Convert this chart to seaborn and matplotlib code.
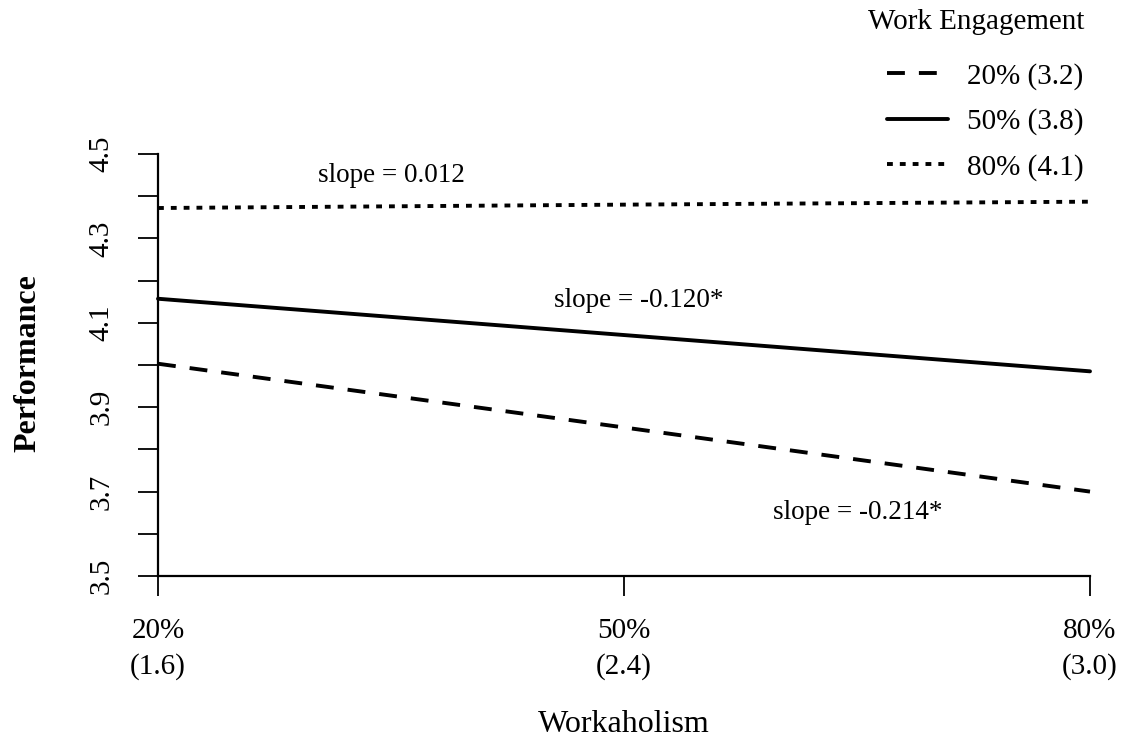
import matplotlib
matplotlib.use("Agg")
import matplotlib.pyplot as plt
import seaborn as sns
import pandas as pd
import numpy as np

# значения
work_pos = [0, 1, 2]
work_labels = ["20%\n(1.6)", "50%\n(2.4)", "80%\n(3.0)"]
engagement = ["20% (3.2)", "50% (3.8)", "80% (4.1)"]
perf_low = [4.003, 3.852, 3.700]
perf_mid = [4.157, 4.071, 3.985]
perf_high = [4.372, 4.380, 4.387]
slope_texts = ["slope = -0.214*", "slope = -0.120*", "slope = 0.012"]

sns.set_style("ticks")
plt.rcParams["font.family"] = ["Liberation Serif", "DejaVu Serif"]
plt.rcParams.update({"text.color": "black", "axes.labelcolor": "black",
                     "xtick.color": "black", "ytick.color": "black"})

df = pd.DataFrame({
    "pos": work_pos * 3,
    "perf": perf_low + perf_mid + perf_high,
    "group": [engagement[0]] * 3 + [engagement[1]] * 3 + [engagement[2]] * 3,
})

fig = plt.figure(figsize=(11.27, 7.40), dpi=100)
ax = fig.add_axes([158 / 1127, 1 - 576 / 740, 932 / 1127, 422 / 740])

lw = 2.8
sns.lineplot(data=df, x="pos", y="perf", style="group", color="black",
             dashes={engagement[0]: (4.6, 3.6), engagement[1]: "",
                     engagement[2]: (1.5, 1.8)},
             linewidth=lw, legend=False, ax=ax)
for ln in ax.get_lines():
    ln.set_clip_on(False)
    ln.set_dash_capstyle("butt")

ax.set_xlim(0, 2)
ax.set_ylim(3.5, 4.5)
ax.set_xticks(work_pos)
ax.set_xticklabels(work_labels, fontsize=21)
for t in ax.get_xticklabels():
    t.set_linespacing(1.45)
yt = np.round(np.arange(3.5, 4.51, 0.1), 1)
ax.set_yticks(yt)
ax.set_yticklabels([f"{v:.1f}" if i % 2 == 0 else "" for i, v in enumerate(yt)],
                   fontsize=21, rotation=90, va="center")
ax.tick_params(axis="both", length=14.4, width=1.3, color="black", pad=16)
ax.tick_params(axis="y", pad=17)

sns.despine(ax=ax)
for s in ["left", "bottom"]:
    ax.spines[s].set_linewidth(1.6)
    ax.spines[s].set_color("black")

ax.set_xlabel("Workaholism", fontsize=23)
ax.xaxis.label.set_va("center")
ax.xaxis.set_label_coords(0.5, -0.352)
ax.set_ylabel("")
fig.text(28 / 1127, 1 - 363 / 740, "Performance", rotation=90, ha="center",
         va="center", fontsize=23, fontweight="bold")

# подписи наклонов
ax.text(1.502, 3.65, slope_texts[0], fontsize=19.5, ha="center", va="center")
ax.text(1.032, 4.153, slope_texts[1], fontsize=19.5, ha="center", va="center")
ax.text(0.502, 4.45, slope_texts[2], fontsize=19.5, ha="center", va="center")

# легенда: заголовок отдельно, он чуть левее линий
fig.text(868 / 1127, 1 - 22 / 740, "Work Engagement", fontsize=21,
         ha="left", va="center")
handles = ax.get_lines()[:3]
leg = ax.legend(handles, engagement, frameon=False,
                fontsize=21, loc="upper right",
                bbox_to_anchor=(1084 / 1127, 1 - 63 / 740),
                bbox_transform=fig.transFigure, borderpad=0, borderaxespad=0,
                handlelength=2.1, handletextpad=0.65, labelspacing=0.63)

fig.savefig("out.png", dpi=100)
